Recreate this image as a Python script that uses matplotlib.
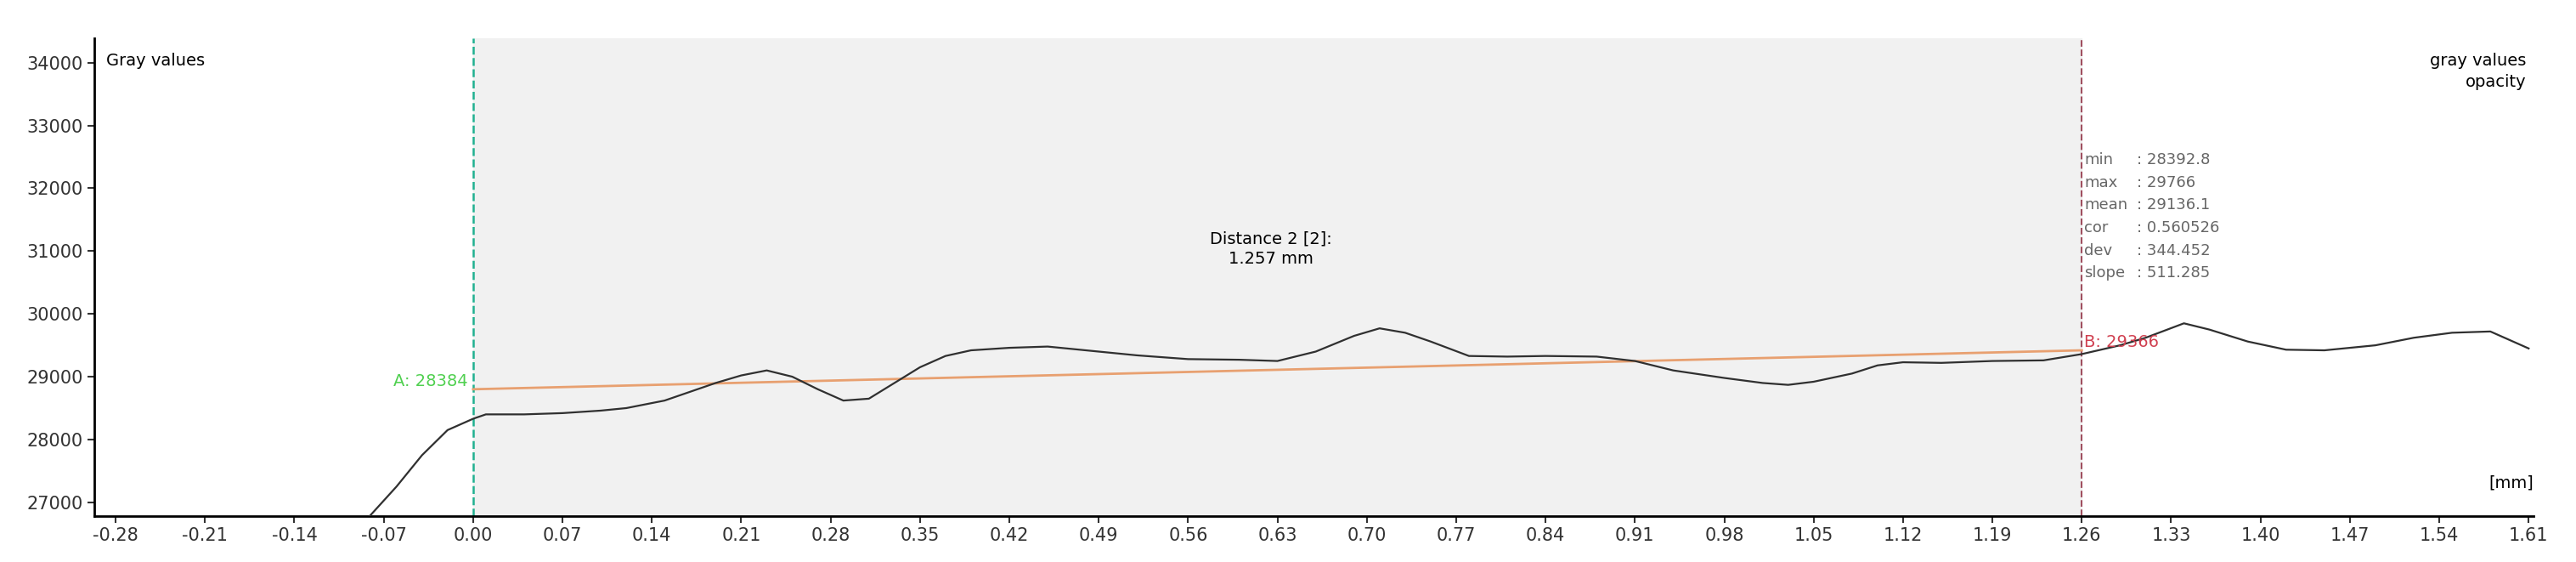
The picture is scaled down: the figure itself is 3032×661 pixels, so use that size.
import matplotlib.pyplot as plt
import numpy as np

# profile along the distance (mm, gray value)
pos = [-0.081, -0.06, -0.04, -0.02, 0.0, 0.01, 0.04, 0.07, 0.10, 0.12, 0.15, 0.17, 0.19, 0.21, 0.23,
       0.25, 0.27, 0.29, 0.31, 0.33, 0.35, 0.37, 0.39, 0.42, 0.45, 0.48, 0.52, 0.56, 0.60, 0.63,
       0.66, 0.69, 0.71, 0.73, 0.75, 0.78, 0.81, 0.84, 0.88, 0.91, 0.94, 0.98, 1.01, 1.03, 1.05,
       1.08, 1.10, 1.12, 1.15, 1.19, 1.23, 1.26, 1.29, 1.31, 1.34, 1.36, 1.39, 1.42, 1.45, 1.49,
       1.52, 1.55, 1.58, 1.61]
gray = [26780, 27250, 27750, 28150, 28330, 28400, 28400, 28420, 28460, 28500, 28620, 28760, 28900,
        29020, 29100, 29000, 28800, 28620, 28650, 28900, 29150, 29330, 29420, 29460, 29480, 29420,
        29340, 29280, 29270, 29250, 29400, 29650, 29770, 29700, 29560, 29330, 29320, 29330, 29320,
        29250, 29100, 28980, 28900, 28870, 28920, 29050, 29180, 29230, 29220, 29250, 29260, 29360,
        29500, 29620, 29850, 29750, 29560, 29430, 29420, 29500, 29620, 29700, 29720, 29450]

fit_x = [0.0, 1.26]
fit_y = [28800, 29420]
xticks = [-0.28, -0.21, -0.14, -0.07, 0.00, 0.07, 0.14, 0.21, 0.28, 0.35, 0.42, 0.49, 0.56, 0.63,
          0.70, 0.77, 0.84, 0.91, 0.98, 1.05, 1.12, 1.19, 1.26, 1.33, 1.40, 1.47, 1.54, 1.61]
yticks = [27000, 28000, 29000, 30000, 31000, 32000, 33000, 34000]
stats_names = ['min', 'max', 'mean', 'cor', 'dev', 'slope']
stats_vals = ['28392.8', '29766', '29136.1', '0.560526', '344.452', '511.285']

fig = plt.figure(figsize=(30.32, 6.61), dpi=100)
ax = fig.add_axes([0.0366, 0.082, 0.947, 0.85])
ax.set_xlim(-0.2967, 1.614)
ax.set_ylim(26783, 34390)

ax.axvspan(0.0, 1.26, color='#f1f1f1', zorder=0)
ax.axvline(0.0, color='#20b090', ls='--', lw=1.8, zorder=1)
ax.axvline(1.26, color='#a05060', ls='--', lw=1.5, zorder=1)
ax.plot(fit_x, fit_y, color='#e8a070', lw=2, zorder=2)
ax.plot(pos, gray, color='#303030', lw=1.6, zorder=3)

ax.set_xticks(xticks)
ax.set_xticklabels(['{0:.2f}'.format(t) for t in xticks])
ax.set_yticks(yticks)
ax.tick_params(labelsize=15, colors='#333333', length=6, width=1.5)
for s in ['top', 'right']:
    ax.spines[s].set_visible(False)
for s in ['left', 'bottom']:
    ax.spines[s].set_linewidth(2)

ax.text(0.005, 0.97, 'Gray values', transform=ax.transAxes, fontsize=14, va='top')
ax.text(0.997, 0.97, 'gray values\nopacity', transform=ax.transAxes, fontsize=14, va='top',
        ha='right', linespacing=1.4)
ax.text(1.0, 0.06, '[mm]', transform=ax.transAxes, fontsize=14, ha='right')
ax.text(0.625, 30800, 'Distance 2 [2]:\n1.257 mm', ha='center', fontsize=14, linespacing=1.3)
ax.text(-0.004, fit_y[0], 'A: 28384', color='#50d050', fontsize=14, ha='right', va='bottom')
ax.text(1.262, 29420, 'B: 29366', color='#d04050', fontsize=14, ha='left', va='bottom')

for i, (n, v) in enumerate(zip(stats_names, stats_vals)):
    y = 32450 - i * 360
    ax.text(1.262, y, n, fontsize=13, color='#666666', va='center')
    ax.text(1.303, y, ': ' + v, fontsize=13, color='#666666', va='center')

fig.savefig('out.png', dpi=100)
